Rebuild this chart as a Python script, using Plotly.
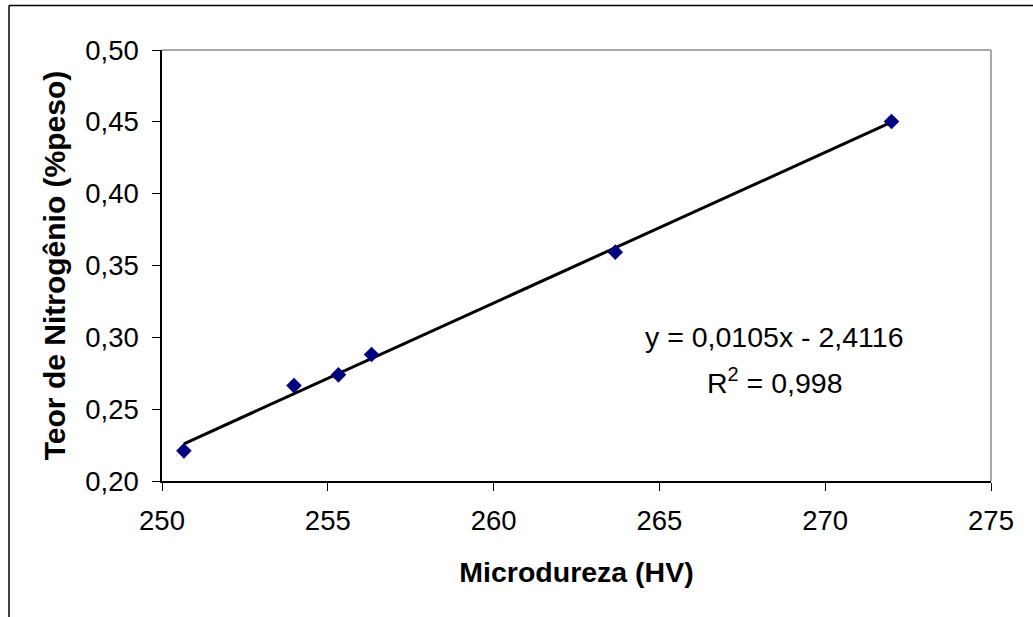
import numpy as np
import plotly.graph_objects as go

# Data
microdureza = [250.66, 253.98, 255.32, 256.32, 263.67, 272.0]
nitrogenio = [0.221, 0.2664, 0.2739, 0.288, 0.3593, 0.4502]

x_ticks = [250, 255, 260, 265, 270, 275]
y_ticks = [0.20, 0.25, 0.30, 0.35, 0.40, 0.45, 0.50]
y_tick_labels = ["0,20", "0,25", "0,30", "0,35", "0,40", "0,45", "0,50"]

eq_text = "y = 0,0105x - 2,4116"
r2_text = "R<sup>2</sup> = 0,998"

# Linear trend line (least squares) drawn across the data range
slope, intercept = np.polyfit(microdureza, nitrogenio, 1)
trend_x = [min(microdureza), max(microdureza)]
trend_y = [slope * v + intercept for v in trend_x]

FONT = "Liberation Sans, Arial, sans-serif"
FS = 27.5

fig = go.Figure()
fig.add_trace(go.Scatter(
    x=trend_x, y=trend_y, mode="lines",
    line=dict(color="black", width=3), showlegend=False, hoverinfo="skip"))
fig.add_trace(go.Scatter(
    x=microdureza, y=nitrogenio, mode="markers",
    marker=dict(symbol="diamond", size=12, color="#000080",
                line=dict(width=0)),
    showlegend=False))

W, H = 1033, 617
L, R, T, B = 162, 42, 50, 136
pw, ph = W - L - R, H - T - B

def px(xp):
    return (xp - L) / pw

def py(yp):
    return (H - B - yp) / ph

fig.update_layout(
    width=W, height=H,
    margin=dict(l=L, r=R, t=T, b=B, pad=0),
    paper_bgcolor="white", plot_bgcolor="white",
    font=dict(family=FONT, size=FS, color="black"),
    xaxis=dict(
        range=[250, 275], tickvals=x_ticks, ticktext=[str(v) for v in x_ticks],
        showgrid=False, zeroline=False, showline=True, linecolor="black",
        linewidth=1.5, ticks="outside", ticklen=8, tickwidth=1, tickcolor="black",
        tickfont=dict(family=FONT, size=FS), ticklabelstandoff=6,
        title=dict(text="<b>Microdureza (HV)</b>", font=dict(family=FONT, size=28.5),
                   standoff=27),
    ),
    yaxis=dict(
        range=[0.20, 0.50], tickvals=y_ticks, ticktext=y_tick_labels,
        showgrid=False, zeroline=False, showline=True, linecolor="black",
        linewidth=1.5, ticks="outside", ticklen=8, tickwidth=1, tickcolor="black",
        tickfont=dict(family=FONT, size=FS), ticklabelstandoff=8,
        title=dict(text="<b>Teor de Nitrogênio (%peso)</b>",
                   font=dict(family=FONT, size=30), standoff=11),
    ),
    shapes=[
        # plot area border (top & right, grey)
        dict(type="line", xref="paper", yref="paper", x0=0, x1=1, y0=1, y1=1,
             line=dict(color="#8c8c8c", width=1.5)),
        dict(type="line", xref="paper", yref="paper", x0=1, x1=1, y0=0, y1=1,
             line=dict(color="#8c8c8c", width=1.5)),
        # outer chart frame (left & top)
        dict(type="line", xref="paper", yref="paper", x0=px(9), x1=px(1040),
             y0=py(5.5), y1=py(5.5), line=dict(color="black", width=1.5)),
        dict(type="line", xref="paper", yref="paper", x0=px(9), x1=px(9),
             y0=py(5.5), y1=py(640), line=dict(color="black", width=1.5)),
    ],
    annotations=[
        dict(x=268.48, y=0.2999, xref="x", yref="y", text=eq_text,
             showarrow=False, font=dict(family=FONT, size=28.5), xanchor="center",
             yanchor="middle"),
        dict(x=268.48, y=0.2694, xref="x", yref="y", text=r2_text,
             showarrow=False, font=dict(family=FONT, size=28.5), xanchor="center",
             yanchor="middle"),
    ],
)

fig.write_html("out.html", config={"displayModeBar": False},
               post_script="document.body.style.margin='0';")
